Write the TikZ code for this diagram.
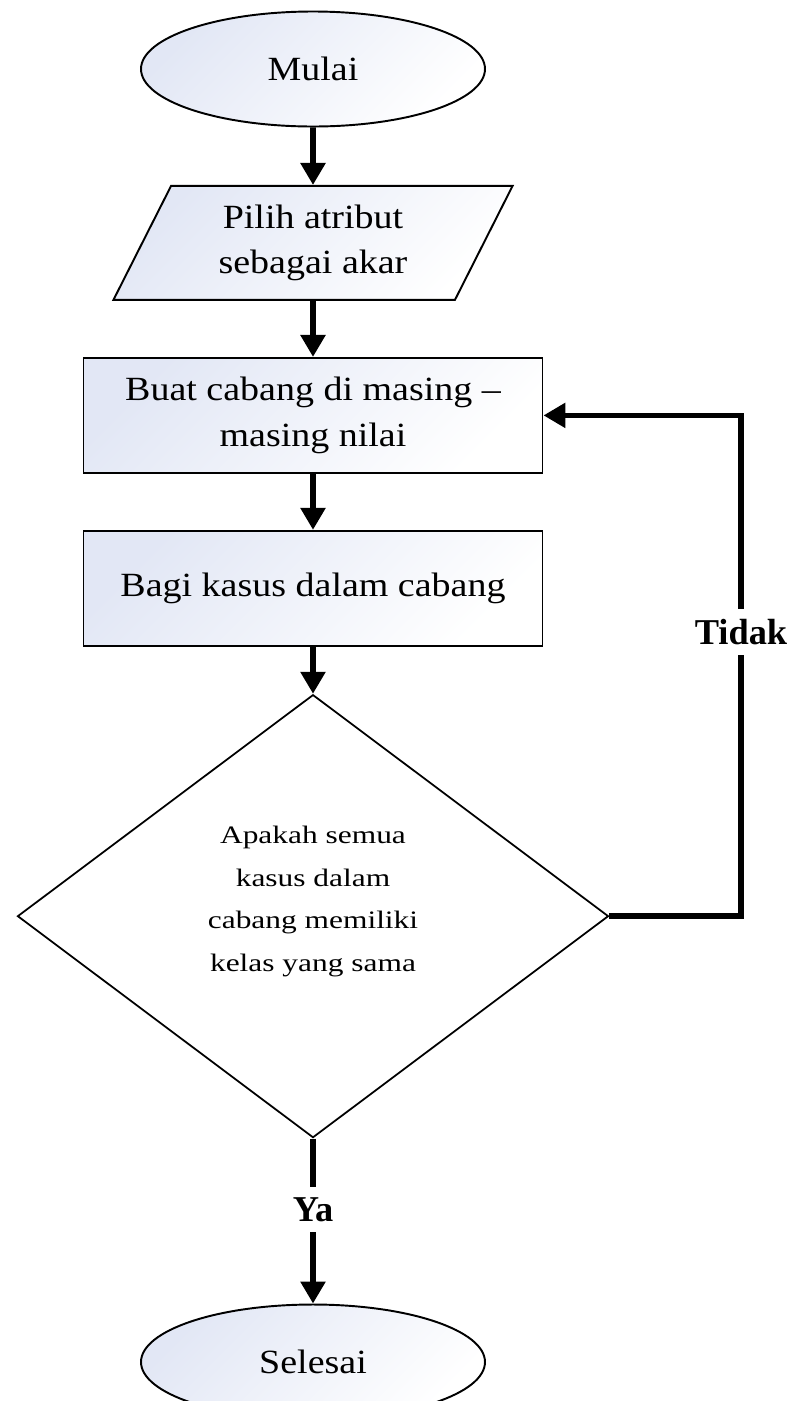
\documentclass[tikz,border=0pt]{standalone}
\usepackage{fontspec}
\setmainfont{Liberation Serif}[FakeStretch=1.12]
\newfontfamily\tanyafont{Liberation Serif}[FakeStretch=1.25]
\newfontfamily\labelfont{Liberation Serif}
\usetikzlibrary{shapes.geometric, arrows.meta, positioning}
\definecolor{isian}{RGB}{226,231,245}

\begin{document}
\begin{tikzpicture}[every node/.style = {align=center, font=\fontsize{19.3}{26}\selectfont},
  isi/.style = {draw, line width=1.1pt, top color=isian, bottom color=white, shading angle=45},
  terminal/.style = {isi, ellipse, minimum width=6.88cm, minimum height=2.3cm, inner sep=0pt},
  masukan/.style = {isi, trapezium, trapezium left angle=63.4, trapezium right angle=116.6,
    trapezium stretches=true, minimum width=8cm, minimum height=2.28cm, inner sep=0pt},
  proses/.style = {isi, rectangle, minimum width=9.18cm, minimum height=2.3cm, inner sep=0pt},
  keputusan/.style = {draw, line width=1pt, diamond, minimum width=11.82cm, minimum height=8.86cm,
    inner sep=0pt, text depth=0.7cm, font=\tanyafont\fontsize{14.3}{24.2}\selectfont},
  panah/.style = {line width=3.2pt, -{Triangle[width=0.48cm, length=0.44cm]}},
  ket/.style = {fill=white, inner sep=0.2cm, font=\labelfont\bfseries\fontsize{20.7}{24}\selectfont}]
 \useasboundingbox (0,0) rectangle (15.9,-28.02);
 \node [terminal] (mulai) at (6.26,-1.38) {Mulai};
 \node [masukan, below = 1.15cm of mulai] (pilih) {Pilih atribut\\sebagai akar};
 \node [proses, below = 1.12cm of pilih] (buat) {Buat cabang di masing --\\masing nilai};
 \node [proses, below = 1.12cm of buat] (bagi) {Bagi kasus dalam cabang};
 \node [keputusan, below = 0.94cm of bagi] (cek) {Apakah semua\\kasus dalam\\cabang memiliki\\kelas yang sama};
 \node [terminal, below = 3.3cm of cek] (selesai) {Selesai};
 \coordinate (belok) at (14.82,-8.22);

 \draw [panah] (mulai) -- (pilih);
 \draw [panah] (pilih) -- (buat);
 \draw [panah] (buat) -- (bagi);
 \draw [panah] (bagi) -- (cek);
 \draw [panah] (cek) -- node [ket, pos=0.43] {Ya} (selesai);
 \draw [panah] (cek.east) -- (cek.east -| belok)
    -- node [ket, pos=0.567] {Tidak} (belok |- buat.east) -- (buat.east);
\end{tikzpicture}
\end{document}
